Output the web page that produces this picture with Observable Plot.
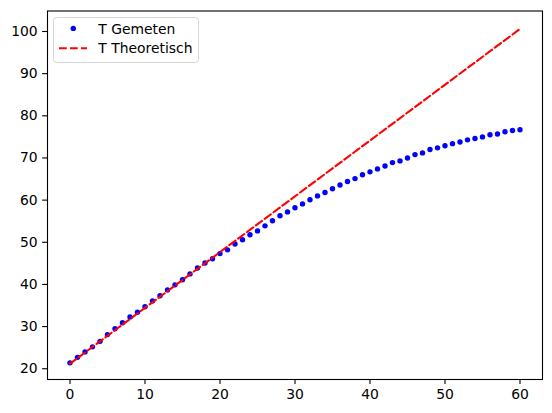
<!DOCTYPE html>
<html>
<head>
<meta charset="utf-8">
<script src="https://cdn.jsdelivr.net/npm/d3@7"></script>
<script src="https://cdn.jsdelivr.net/npm/@observablehq/plot@0.6"></script>
<style>
  html, body { margin: 0; padding: 0; background: white; }
  #chart { position: relative; width: 552px; height: 413px; }
</style>
</head>
<body>
<div id="chart"></div>
<script>
// Time (x) values of measurements
const time = [0,1,2,3,4,5,6,7,8,9,10,11,12,13,14,15,16,17,18,19,20,
  21,22,23,24,25,26,27,28,29,30,31,32,33,34,35,36,37,38,39,40,
  41,42,43,44,45,46,47,48,49,50,51,52,53,54,55,56,57,58,59,60];
// Measured temperature
const tGemeten = [21.4,22.7,24.0,25.2,26.5,28.1,29.5,30.9,32.3,33.4,34.7,
  36.1,37.3,38.7,39.9,41.1,42.5,43.9,45.1,46.1,47.3,
  48.2,49.6,50.6,51.8,52.7,53.9,55.1,56.3,57.2,58.2,
  59.1,60.1,61.0,61.8,62.7,63.6,64.4,65.1,66.0,66.7,
  67.4,68.1,68.9,69.3,70.0,70.8,71.2,72.0,72.4,72.9,
  73.4,73.8,74.3,74.6,75.0,75.5,75.7,76.2,76.5,76.7];
// Theoretical line endpoints
const theoryTime = [0, 60];
const tTheoretisch = [21.2, 100.6];
// Tick values
const xTicks = [0, 10, 20, 30, 40, 50, 60];
const yTicks = [20, 30, 40, 50, 60, 70, 80, 90, 100];
// Legend labels
const legendLabels = ["T Gemeten", "T Theoretisch"];

const measured = time.map((t, i) => ({t, T: tGemeten[i]}));
const theory = theoryTime.map((t, i) => ({t, T: tTheoretisch[i]}));

const plot = Plot.plot({
  width: 552,
  height: 413,
  marginLeft: 47,
  marginRight: 10,
  marginTop: 10.5,
  marginBottom: 34,
  style: {fontFamily: "DejaVu Sans", fontSize: "13.9px", color: "black", background: "white"},
  x: {domain: [-3, 63]},
  y: {domain: [17.45, 104.86]},
  marks: [
    Plot.dot(measured, {x: "t", y: "T", fill: "#0000ff", r: 2.7}),
    Plot.line(theory, {x: "t", y: "T", stroke: "#ff0000", strokeWidth: 2.08, strokeDasharray: "7.7,3.33"}),
    Plot.frame({stroke: "black", strokeWidth: 1.1}),
    Plot.axisX({ticks: xTicks, tickSize: 4.9, tickPadding: 4.9, strokeWidth: 1.1, label: null, tickFormat: d => String(d)}),
    Plot.axisY({ticks: yTicks, tickSize: 4.9, tickPadding: 4.9, strokeWidth: 1.1, label: null, tickFormat: d => String(d)})
  ]
});

document.getElementById("chart").appendChild(plot);

// Legend drawn inside the axes
const svg = d3.select(plot);
const lg = svg.append("g")
  .attr("font-family", "DejaVu Sans").attr("font-size", 13.9).attr("text-anchor", "start");
lg.append("rect")
  .attr("x", 53.5).attr("y", 17.5).attr("width", 145).attr("height", 45)
  .attr("rx", 3).attr("fill", "white").attr("fill-opacity", 0.8)
  .attr("stroke", "#d6d6d6").attr("stroke-width", 1);
lg.append("circle").attr("cx", 73.3).attr("cy", 28.4).attr("r", 2.7).attr("fill", "#0000ff");
lg.append("text").attr("x", 98.3).attr("y", 28.7).attr("dy", "0.35em")
  .attr("text-anchor", "start").attr("fill", "black").text(legendLabels[0]);
lg.append("line").attr("x1", 59).attr("x2", 87).attr("y1", 48.3).attr("y2", 48.3)
  .attr("stroke", "#ff0000").attr("stroke-width", 2.08).attr("stroke-dasharray", "7.7,3.33");
lg.append("text").attr("x", 98.3).attr("y", 48.3).attr("dy", "0.35em")
  .attr("text-anchor", "start").attr("fill", "black").text(legendLabels[1]);
</script>
</body>
</html>
